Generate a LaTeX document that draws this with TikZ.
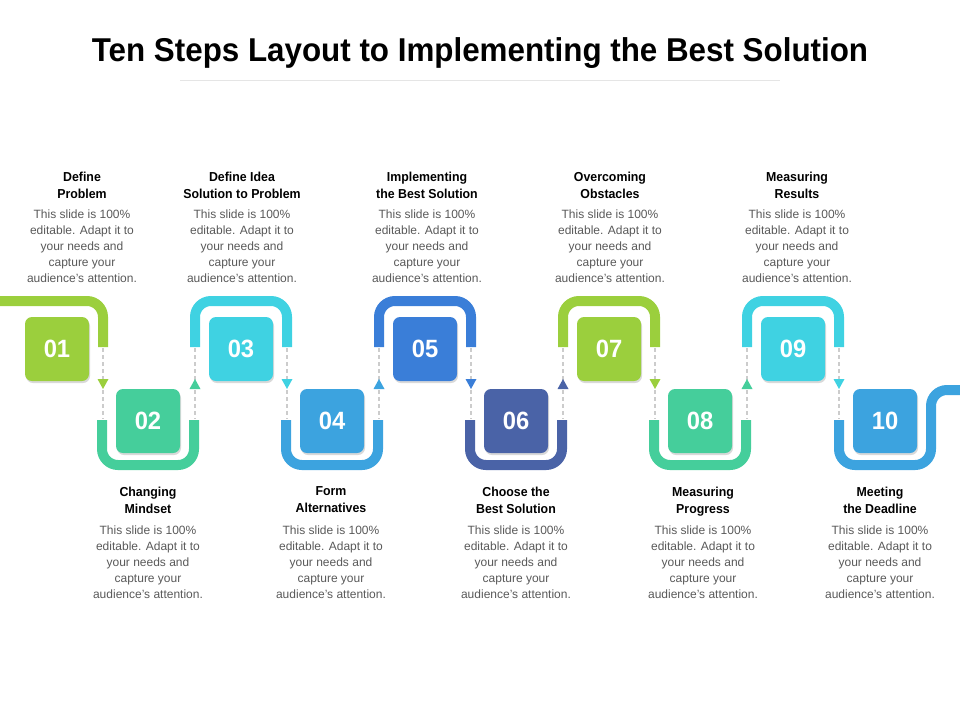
\documentclass[tikz,border=0pt]{standalone}
\usepackage{fontspec}
\setmainfont{Liberation Sans}
\newfontfamily\narrowfont{Liberation Sans}[FakeStretch=0.95]
\usetikzlibrary{shadows}

\definecolor{cLime}{HTML}{9BCF3D}
\definecolor{cMint}{HTML}{45CE9B}
\definecolor{cCyan}{HTML}{3FD2E2}
\definecolor{cSky}{HTML}{3CA3DF}
\definecolor{cRoyal}{HTML}{3A7ED8}
\definecolor{cNavy}{HTML}{4A63A7}

\tikzset{
  stepnum/.style={fill=#1, rounded corners=7pt, minimum width=64pt,
    minimum height=64pt, text=white,
    font=\narrowfont\bfseries\fontsize{25}{25}\selectfont,
    drop shadow={opacity=0.3, shadow xshift=1pt, shadow yshift=-2pt}},
  frame/.style={draw=#1, line width=10pt, rounded corners=16pt},
  head/.style={font=\narrowfont\bfseries\fontsize{13}{17}\selectfont,
    align=center, text=black, text depth=0pt},
  body/.style={font=\fontsize{12}{16}\selectfont,
    align=center, text=black!65},
  link/.style={draw=black!20, line width=1.3pt, dash pattern=on 4pt off 3pt},
}

\newcommand{\blurb}{This slide is 100\%\\editable. Adapt it to\\your needs and\\capture your\\audience's attention.}

\begin{document}
\begin{tikzpicture}[x=1pt,y=-1pt]
\useasboundingbox (0,0) rectangle (960,720);

\node (title) at (480,53)
  {\narrowfont\bfseries\fontsize{33}{33}\selectfont Ten Steps Layout to Implementing the Best Solution};
\draw[black!10] (180,80) -- (780,80);

% frames
\draw[frame=cLime] (0,301) -- (103,301) -- (103,347);
\foreach \x/\c in {241/cCyan,425/cRoyal,609/cLime,793/cCyan}
  \draw[frame=\c] (\x-46,347) -- (\x-46,301) -- (\x+46,301) -- (\x+46,347);
\foreach \x/\c in {148/cMint,332/cSky,516/cNavy,700/cMint}
  \draw[frame=\c] (\x-46,420) -- (\x-46,465) -- (\x+46,465) -- (\x+46,420);
\draw[frame=cSky] (839,420) -- (839,465) -- (931,465) -- (931,390) -- (960,390);

% boxes
\foreach \i/\x/\c in {01/57/cLime,03/241/cCyan,05/425/cRoyal,07/609/cLime,09/793/cCyan}
  \node[stepnum=\c] (b\i) at (\x,349) {\i};
\foreach \i/\x/\c in {02/148/cMint,04/332/cSky,06/516/cNavy,08/700/cMint,10/885/cSky}
  \node[stepnum=\c] (b\i) at (\x,421) {\i};

% links between frames
\foreach \k/\x/\c/\d in {1/103/cLime/1,2/195/cMint/-1,3/287/cCyan/1,4/379/cSky/-1,
    5/471/cRoyal/1,6/563/cNavy/-1,7/655/cLime/1,8/747/cMint/-1,9/839/cCyan/1}{
  \coordinate (u\k) at (\x,348);
  \coordinate (d\k) at (\x,419);
  \draw[link] (u\k) -- (d\k);
  \fill[\c] (\x-5.5,384-5*\d) -- (\x+5.5,384-5*\d) -- (\x,384+5*\d) -- cycle;
}

% texts
\node[head] (h01) at (82,185) {Define\\Problem};
\node[body] (t01) at (82,246) {\blurb};
\node[head] (h03) at (242,185) {Define Idea\\Solution to Problem};
\node[body] (t03) at (242,246) {\blurb};
\node[head] (h05) at (427,185) {Implementing\\the Best Solution};
\node[body] (t05) at (427,246) {\blurb};
\node[head] (h07) at (610,185) {Overcoming\\Obstacles};
\node[body] (t07) at (610,246) {\blurb};
\node[head] (h09) at (797,185) {Measuring\\Results};
\node[body] (t09) at (797,246) {\blurb};

\node[head] (h02) at (148,500) {Changing\\Mindset};
\node[body] (t02) at (148,562) {\blurb};
\node[head] (h04) at (331,500) {Form\\Alternatives};
\node[body] (t04) at (331,562) {\blurb};
\node[head] (h06) at (516,500) {Choose the\\Best Solution};
\node[body] (t06) at (516,562) {\blurb};
\node[head] (h08) at (703,500) {Measuring\\Progress};
\node[body] (t08) at (703,562) {\blurb};
\node[head] (h10) at (880,500) {Meeting\\the Deadline};
\node[body] (t10) at (880,562) {\blurb};
\end{tikzpicture}
\end{document}
